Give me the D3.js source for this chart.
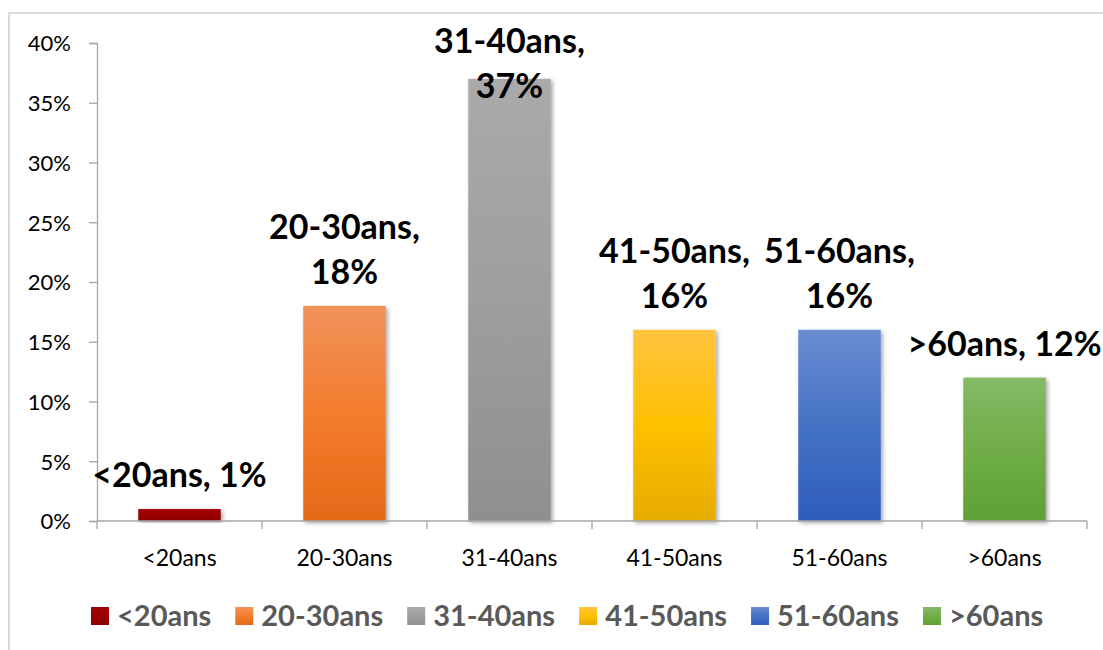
<!DOCTYPE html>
<html>
<head>
<meta charset="utf-8">
<script src="https://cdn.jsdelivr.net/npm/d3@7"></script>
<style>
  html, body { margin: 0; padding: 0; background: #ffffff; }
  svg { display: block; font-family: Lato, "Open Sans", sans-serif; }
</style>
</head>
<body>
<svg id="chart" width="1103" height="650"></svg>
<script>
// Répartition par tranche d'âge
const categories = ["<20ans", "20-30ans", "31-40ans", "41-50ans", "51-60ans", ">60ans"];
const values = [0.01, 0.18, 0.37, 0.16, 0.16, 0.12];
const yTicks = [0, 0.05, 0.10, 0.15, 0.20, 0.25, 0.30, 0.35, 0.40];
// top tint, base colour, bottom shade for each bar
const barColors = [
  ["#a30404", "#990000", "#8c0000"],
  ["#f0925c", "#f47c2c", "#e46a18"],
  ["#aaaaaa", "#9e9e9e", "#8f8f8f"],
  ["#ffc43f", "#ffc000", "#e6ac00"],
  ["#6a8bd2", "#4472c4", "#2e5dbb"],
  ["#85ba67", "#70ad47", "#60a035"]
];

const FONT = "Lato, 'Open Sans', sans-serif";
const svg = d3.select("#chart");
const W = 1103, H = 650;
const plot = { left: 97, right: 1087, top: 43, bottom: 521 };

// outer frame of the chart area
svg.append("rect")
  .attr("x", 9).attr("y", 13)
  .attr("width", W + 10).attr("height", H + 10)
  .attr("fill", "#ffffff")
  .attr("stroke", "#d9d9d9").attr("stroke-width", 2);

const defs = svg.append("defs");
barColors.forEach((c, i) => {
  const g = defs.append("linearGradient")
    .attr("id", "grad" + i)
    .attr("x1", 0).attr("y1", 0).attr("x2", 0).attr("y2", 1);
  g.append("stop").attr("offset", "0%").attr("stop-color", c[0]);
  g.append("stop").attr("offset", "50%").attr("stop-color", c[1]);
  g.append("stop").attr("offset", "100%").attr("stop-color", c[2]);
});
const shadow = defs.append("filter").attr("id", "shadow")
  .attr("x", "-20%").attr("y", "-5%").attr("width", "150%").attr("height", "120%");
shadow.append("feDropShadow")
  .attr("dx", 2).attr("dy", 2).attr("stdDeviation", 2)
  .attr("flood-color", "#000").attr("flood-opacity", 0.35);

const x = d3.scaleBand()
  .domain(categories)
  .range([plot.left, plot.right])
  .paddingInner(0.5).paddingOuter(0.25);

const y = d3.scaleLinear()
  .domain([0, 0.4])
  .range([plot.bottom, plot.top]);

// y axis
const yAxis = svg.append("g")
  .attr("transform", `translate(${plot.left},0)`)
  .call(d3.axisLeft(y).tickValues(yTicks).tickFormat(d3.format(".0%")).tickSizeOuter(0).tickSize(8).tickPadding(18))
  .attr("font-family", FONT);
yAxis.select(".domain").attr("stroke", "#a6a6a6").attr("stroke-width", 1.3);
yAxis.selectAll(".tick line").attr("stroke", "#a6a6a6").attr("stroke-width", 1.3);
yAxis.selectAll(".tick text")
  .attr("fill", "#000").style("font-size", "22px").attr("dy", "0.36em");

// bars
svg.append("g").selectAll("rect")
  .data(values)
  .join("rect")
  .attr("x", (d, i) => x(categories[i]))
  .attr("width", x.bandwidth())
  .attr("y", d => y(d))
  .attr("height", d => y(0) - y(d))
  .attr("fill", (d, i) => `url(#grad${i})`)
  .attr("filter", "url(#shadow)");

// x axis with ticks at category boundaries
const xAxisG = svg.append("g").attr("transform", `translate(0,${plot.bottom})`);
xAxisG.append("line")
  .attr("x1", plot.left).attr("x2", plot.right)
  .attr("stroke", "#a6a6a6").attr("stroke-width", 1.3);
const bounds = categories.map(c => x(c) - x.step() * x.paddingInner() / 2)
  .concat([plot.right]);
xAxisG.selectAll("line.b")
  .data(bounds)
  .join("line").attr("class", "b")
  .attr("x1", d => d).attr("x2", d => d)
  .attr("y1", 0).attr("y2", 8)
  .attr("stroke", "#a6a6a6").attr("stroke-width", 1.3);
xAxisG.selectAll("text")
  .data(categories)
  .join("text")
  .attr("x", d => x(d) + x.bandwidth() / 2)
  .attr("y", 45)
  .attr("text-anchor", "middle")
  .attr("fill", "#000")
  .style("font-size", "23px")
  .text(d => d);

// data labels: "catégorie, valeur", wrapped onto two lines when long
const fmtPct = d3.format(".0%");
const labelSize = 34, lineGap = 45, labelOffset = 22, minFirstBaseline = 53;
const labels = svg.append("g")
  .attr("font-weight", "bold")
  .style("font-size", labelSize + "px")
  .attr("fill", "#000")
  .attr("text-anchor", "middle");
values.forEach((v, i) => {
  const cx = x(categories[i]) + x.bandwidth() / 2;
  const full = `${categories[i]}, ${fmtPct(v)}`;
  const t = labels.append("text").attr("x", cx).text(full);
  let lines = [full];
  if (t.node().getComputedTextLength() > 205) {
    lines = [`${categories[i]},`, fmtPct(v)];
  }
  t.remove();
  let last = y(v) - labelOffset;
  last = Math.max(last, minFirstBaseline + (lines.length - 1) * lineGap);
  lines.forEach((s, k) => {
    labels.append("text")
      .attr("x", cx)
      .attr("y", last - (lines.length - 1 - k) * lineGap)
      .text(s);
  });
});

// legend
const legend = svg.append("g")
  .attr("font-weight", "bold")
  .style("font-size", "29px")
  .attr("fill", "#595959");
let lx = 91;
categories.forEach((c, i) => {
  legend.append("rect")
    .attr("x", lx).attr("y", 607)
    .attr("width", 18).attr("height", 18)
    .attr("fill", `url(#grad${i})`);
  const t = legend.append("text")
    .attr("x", lx + 26).attr("y", 626)
    .text(c);
  lx += 26 + t.node().getComputedTextLength() + 24;
});
</script>
</body>
</html>
